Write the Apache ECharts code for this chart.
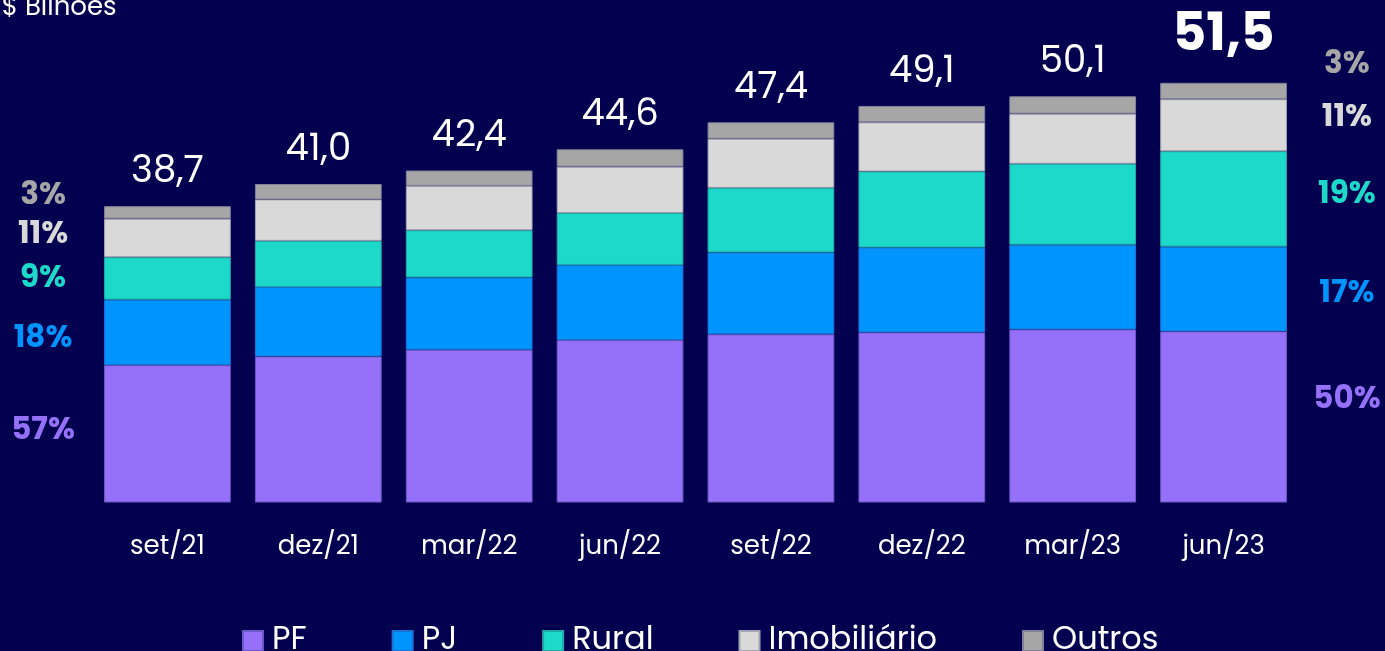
<!DOCTYPE html>
<html>
<head>
<meta charset="utf-8">
<title>Carteira de crédito</title>
<style>
	html, body { margin: 0; padding: 0; background: #03004f; }
	#chart { width: 1385px; height: 651px; }
</style>
</head>
<body>
<div id="chart"></div>
<script src="https://cdn.jsdelivr.net/npm/echarts@6/dist/echarts.min.js"></script>
<script>
	// dados (R$ bilhões)
	var categories = ['set/21', 'dez/21', 'mar/22', 'jun/22', 'set/22', 'dez/22', 'mar/23', 'jun/23'];
	var totals = [38.7, 41.0, 42.4, 44.6, 47.4, 49.1, 50.1, 51.5];
	var pf = [22.2, 23.1, 23.8, 24.8, 25.4, 25.6, 25.9, 25.7];
	var pj = [6.8, 7.2, 7.5, 7.8, 8.5, 8.8, 8.8, 8.8];
	var rural = [4.4, 4.8, 4.9, 5.4, 6.7, 7.9, 8.4, 9.9];
	var imob = [4.0, 4.3, 4.6, 4.8, 5.1, 5.1, 5.2, 5.4];
	var outros = [1.3, 1.6, 1.6, 1.8, 1.7, 1.7, 1.8, 1.7];
	// participação no primeiro e no último período (PF, PJ, Rural, Imobiliário, Outros)
	var pctFirst = [57, 18, 9, 11, 3];
	var pctLast = [50, 17, 19, 11, 3];

	var font = 'Poppins, Inter, sans-serif';
	var last = categories.length - 1;

	// cor, borda e ajuste vertical dos rótulos laterais
	var segs = [
		{ name: 'PF', values: pf, color: '#9570f8', border: '#6e58c8', dyL: -3, dyR: -17 },
		{ name: 'PJ', values: pj, color: '#0094ff', border: '#1a72d6', dyL: 7, dyR: 5 },
		{ name: 'Rural', values: rural, color: '#1dd9c9', border: '#21a9a8', dyL: 1, dyR: -4 },
		{ name: 'Imobiliário', values: imob, color: '#d9d9d9', border: '#a4a4b4', dyL: -3, dyR: -7 },
		{ name: 'Outros', values: outros, color: '#a6a6a6', border: '#80809a', dyL: -16, dyR: -26 }
	];

	function pctLabel(text, color, pos, dx, dy) {
		return {
			show: true,
			position: pos,
			offset: [dx, dy],
			align: 'center',
			verticalAlign: 'middle',
			formatter: text,
			color: color,
			fontSize: 31,
			fontWeight: 'bold',
			fontFamily: font
		};
	}

	var series = segs.map(function (s, k) {
		return {
			name: s.name,
			type: 'bar',
			stack: 'total',
			barCategoryGap: '16%',
			itemStyle: { color: s.color, borderColor: s.border, borderWidth: 1 },
			emphasis: { disabled: true },
			data: s.values.map(function (v, i) {
				var item = { value: v };
				if (i === 0) item.label = pctLabel(pctFirst[k] + '%', s.color, [0, '50%'], -61, s.dyL);
				if (i === last) item.label = pctLabel(pctLast[k] + '%', s.color, ['100%', '50%'], 60, s.dyR);
				return item;
			})
		};
	});

	// série vazia só para o total no topo de cada coluna
	series.push({
		name: 'Total',
		type: 'bar',
		stack: 'total',
		itemStyle: { color: 'transparent' },
		data: totals.map(function (t, i) {
			var txt = t.toFixed(1).replace('.', ',');
			if (i === last) {
				return { value: 0, label: { show: true, position: 'top', distance: 20, formatter: txt,
					color: '#fff', fontSize: 52, fontWeight: 'bold', fontFamily: font } };
			}
			return { value: 0, label: { show: true, position: 'top', distance: 15, formatter: txt,
				color: '#fff', fontSize: 37, fontFamily: font } };
		})
	});

	var myChart = echarts.init(document.getElementById('chart'));

	var option = {
		backgroundColor: '#03004f',
		animation: false,
		textStyle: { fontFamily: font },
		title: {
			text: 'R$ Bilhões',
			left: -19,
			top: -10,
			textStyle: { color: '#fff', fontSize: 26, fontWeight: 'normal', fontFamily: font }
		},
		legend: {
			data: ['PF', 'PJ', 'Rural', 'Imobiliário', 'Outros'],
			left: 237,
			top: 620,
			icon: 'rect',
			itemWidth: 20,
			itemHeight: 20,
			itemGap: 85,
			textStyle: { color: '#fff', fontSize: 32, fontFamily: font, padding: [0, 0, 0, 4] }
		},
		grid: { left: 92, right: 86, top: 78, bottom: 149 },
		xAxis: {
			type: 'category',
			data: categories,
			axisLine: { show: false },
			axisTick: { show: false },
			axisLabel: { color: '#fff', fontSize: 26, margin: 32, fontFamily: font }
		},
		yAxis: {
			type: 'value',
			min: 8,
			max: 52,
			show: false,
			splitLine: { show: false }
		},
		series: series
	};

	myChart.setOption(option);
</script>
</body>
</html>
